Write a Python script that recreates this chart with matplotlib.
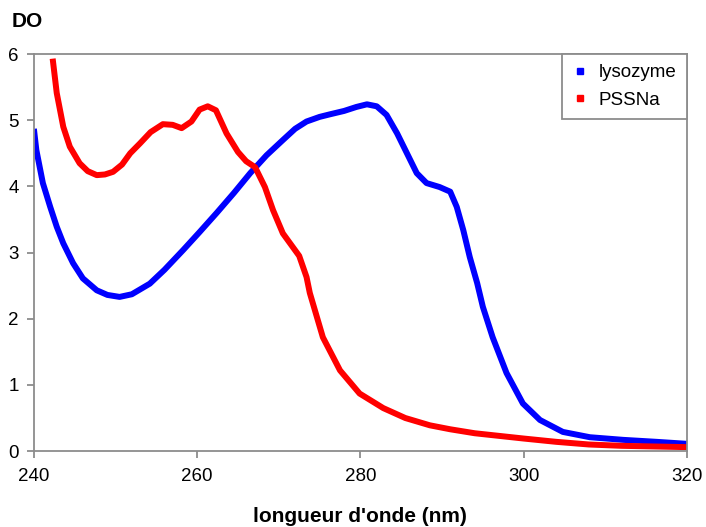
import matplotlib.pyplot as plt
from matplotlib.lines import Line2D

plt.rcParams['font.family'] = ['Liberation Sans', 'DejaVu Sans']

# Spectres
lys_x = [240.0, 240.3, 241.1, 242.0, 242.8, 243.6, 244.8, 246.0, 247.7, 249.0, 250.5,
         252.0, 254.2, 256.0, 258.3, 260.3, 262.4, 264.5, 266.5, 268.5, 270.5, 272.0,
         273.4, 275.0, 276.3, 278.0, 279.5, 280.8, 282.0, 283.2, 284.5, 285.7, 286.9,
         288.1, 289.7, 291.0, 291.8, 292.6, 293.4, 294.3, 295.0, 296.2, 297.9, 299.9,
         302.0, 304.8, 308.1, 312.2, 316.3, 320.0]
lys_y = [4.87, 4.55, 4.05, 3.69, 3.39, 3.14, 2.84, 2.61, 2.43, 2.36, 2.33,
         2.37, 2.53, 2.74, 3.04, 3.31, 3.60, 3.90, 4.20, 4.47, 4.70, 4.87,
         4.98, 5.05, 5.09, 5.14, 5.20, 5.24, 5.21, 5.08, 4.80, 4.50, 4.20,
         4.05, 3.99, 3.92, 3.69, 3.34, 2.93, 2.54, 2.18, 1.72, 1.18, 0.72,
         0.47, 0.29, 0.21, 0.17, 0.14, 0.11]

pss_x = [242.3, 242.8, 243.6, 244.4, 245.6, 246.6, 247.7, 248.7, 249.7, 250.8, 251.8,
         253.0, 254.3, 255.8, 257.0, 258.1, 259.3, 260.3, 261.3, 262.3, 263.6, 265.0,
         266.0, 267.1, 268.3, 269.3, 270.5, 271.5, 272.5, 273.4, 273.8, 275.4, 277.5,
         279.9, 282.8, 285.5, 288.5, 291.0, 294.0, 297.0, 300.0, 304.0, 308.0, 312.0,
         316.0, 320.0]
pss_y = [5.93, 5.41, 4.90, 4.60, 4.35, 4.23, 4.17, 4.18, 4.22, 4.33, 4.50,
         4.65, 4.82, 4.94, 4.93, 4.88, 4.98, 5.16, 5.21, 5.15, 4.80, 4.52,
         4.38, 4.29, 3.99, 3.64, 3.29, 3.12, 2.95, 2.63, 2.39, 1.72, 1.22,
         0.87, 0.65, 0.50, 0.39, 0.33, 0.27, 0.23, 0.19, 0.14, 0.10, 0.08,
         0.07, 0.06]

fig = plt.figure(figsize=(7.06, 5.27), dpi=100)
ax = fig.add_axes([0.048, 0.144, 0.925, 0.7535])

ax.plot(lys_x, lys_y, color='#0000ff', linewidth=4.3,
        solid_capstyle='butt', solid_joinstyle='round')
ax.plot(pss_x, pss_y, color='#ff0000', linewidth=4.3,
        solid_capstyle='butt', solid_joinstyle='round')

ax.set_xlim(240, 320)
ax.set_ylim(0, 6)
ax.set_xticks([240, 260, 280, 300, 320])
ax.set_yticks([0, 1, 2, 3, 4, 5, 6])

for s in ax.spines.values():
    s.set_color('#8c8c8c')
    s.set_linewidth(1.3)
ax.tick_params(direction='out', length=5, width=1.3, color='#8c8c8c',
               labelsize=13.5, labelcolor='black')
ax.tick_params(axis='x', pad=7)
ax.tick_params(axis='y', pad=6)

ax.set_xlabel("longueur d'onde (nm)", fontsize=15, fontweight='bold', labelpad=16)
fig.text(0.017, 0.96, 'DO', fontsize=15, fontweight='bold', ha='left', va='center')

handles = [Line2D([], [], linestyle='none', marker='s', markersize=4, color='#0000ff'),
           Line2D([], [], linestyle='none', marker='s', markersize=4, color='#ff0000')]
leg = ax.legend(handles, ['lysozyme', 'PSSNa'], loc='upper right', bbox_to_anchor=(1, 1),
                borderaxespad=0, fancybox=False, fontsize=13.5, handlelength=0.8,
                handletextpad=0.6, labelspacing=0.55, borderpad=0.55)
leg.get_frame().set_edgecolor('#8c8c8c')
leg.get_frame().set_linewidth(1.3)
leg.get_frame().set_alpha(1)

plt.savefig('out.png', dpi=100)
